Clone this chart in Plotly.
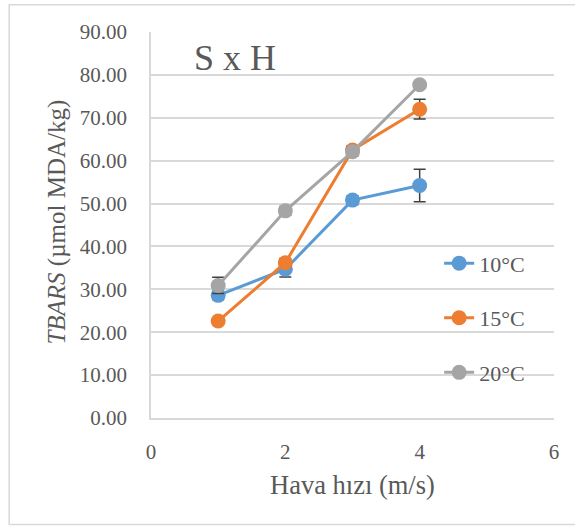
import plotly.graph_objects as go

x_vals = [1, 2, 3, 4]
series_names = ["10°C", "15°C", "20°C"]
y_10 = [28.6, 34.7, 50.8, 54.2]
y_15 = [22.6, 36.2, 62.5, 72.0]
y_20 = [30.9, 48.3, 62.1, 77.7]
err_10 = [1.0, 1.8, 1.0, 3.8]
err_15 = [0.8, 1.0, 1.0, 2.3]
err_20 = [1.9, 1.0, 1.0, 0.6]
colors = ["#5b9bd5", "#ed7d31", "#a5a5a5"]

x_ticks = [0, 2, 4, 6]
y_ticks = [0, 10, 20, 30, 40, 50, 60, 70, 80, 90]
y_tick_text = [f"{v:.2f}" for v in y_ticks]

FONT = "Liberation Serif"
TXT = "#595959"

fig = go.Figure()
for i, (name, ys, es) in enumerate(zip(series_names, [y_10, y_15, y_20], [err_10, err_15, err_20])):
    fig.add_trace(go.Scatter(
        x=x_vals, y=ys, name=name, mode="lines+markers",
        line=dict(color=colors[i], width=3),
        marker=dict(color=colors[i], size=15),
        error_y=dict(type="data", array=es, visible=True, color="#404040", thickness=1.5, width=6),
        legendgroup=f"g{i}",
    ))

PL, PR, PT, PB = 150.5, 554.0, 31.7, 418.3
W, H = 575, 526
pw, ph = PR - PL, PB - PT

def px_x(p):
    return (p - PL) / pw

def px_y(p):
    return (PB - p) / ph

fig.update_layout(
    width=W, height=H,
    margin=dict(l=PL, r=W - PR, t=PT, b=H - PB),
    paper_bgcolor="white", plot_bgcolor="white",
    font=dict(family=FONT, color=TXT, size=21),
    showlegend=True,
    legend=dict(
        x=px_x(439), y=px_y(318), xanchor="left", yanchor="middle",
        bgcolor="rgba(0,0,0,0)", font=dict(size=22, color=TXT, family=FONT),
        traceorder="grouped", tracegroupgap=23,
    ),
    xaxis=dict(
        range=[0, 6], tickvals=x_ticks, showgrid=False, zeroline=False,
        showline=True, linecolor="#d9d9d9", linewidth=1.5,
        ticks="", ticklabelstandoff=14, tickfont=dict(size=21, color=TXT, family=FONT),
    ),
    yaxis=dict(
        range=[0, 90], tickvals=y_ticks, ticktext=y_tick_text,
        showgrid=True, gridcolor="#d9d9d9", gridwidth=1.5, zeroline=False,
        showline=True, linecolor="#d9d9d9", linewidth=1.5,
        ticks="", ticklabelstandoff=18, tickfont=dict(size=21, color=TXT, family=FONT),
    ),
    shapes=[dict(
        type="rect", xref="paper", yref="paper",
        x0=px_x(8.5), x1=px_x(580), y0=px_y(525), y1=px_y(4.5),
        line=dict(color="#d9d9d9", width=1.5), fillcolor="rgba(0,0,0,0)", layer="below",
    )],
    annotations=[
        dict(text="S x H", xref="paper", yref="paper", x=px_x(234.5), y=px_y(58),
             xanchor="center", yanchor="middle", showarrow=False,
             font=dict(size=36, color=TXT, family=FONT)),
        dict(text="Hava hızı (m/s)", xref="paper", yref="paper", x=px_x(352.5), y=px_y(485),
             xanchor="center", yanchor="middle", showarrow=False,
             font=dict(size=26.5, color=TXT, family=FONT)),
        dict(text="<i>TBARS</i> (µmol MDA/kg)", xref="paper", yref="paper", x=px_x(56), y=px_y(222),
             xanchor="center", yanchor="middle", showarrow=False, textangle=-90,
             font=dict(size=25, color=TXT, family=FONT)),
    ],
)

fig.write_html("out.html")
